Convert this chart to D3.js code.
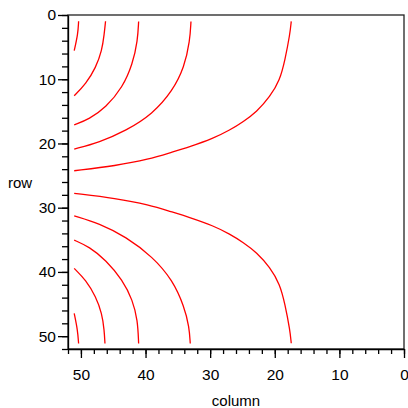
<!DOCTYPE html>
<html>
<head>
<meta charset="utf-8">
<script src="https://cdn.jsdelivr.net/npm/d3@7"></script>
<style>
  html, body { margin: 0; padding: 0; background: #fff; }
  #chartDiv { width: 408px; height: 408px; }
  text { font-family: "Liberation Sans", Arial, sans-serif; }
</style>
</head>
<body>
<div id="chartDiv"></div>
<script>
// tick values
const majorTicks = [0, 10, 20, 30, 40, 50];
const minorTicks = d3.range(0, 53, 2);

// contour lines, points are [column, row]
const upperLines = [
  [[50.36, 0.98], [50.46, 2.96], [51.04, 5.56]],
  [[46.19, 0.98], [46.39, 2.96], [46.75, 5.56], [47.68, 8.15], [49.23, 10.75], [51.04, 12.57]],
  [[41.07, 1.0], [41.22, 4.0], [42.0, 7.63], [43.54, 11.26], [46.13, 14.38], [48.71, 16.2], [51.04, 17.09]],
  [[32.97, 1.0], [33.13, 4.0], [34.0, 8.15], [35.8, 11.79], [38.9, 15.42], [43.03, 18.02], [47.17, 19.83], [51.04, 20.87]],
  [[17.45, 1.0], [17.65, 2.96], [18.42, 7.01], [19.2, 10.12], [20.74, 12.73], [22.8, 15.06], [24.88, 16.62],
   [26.93, 17.91], [29.52, 19.21], [33.13, 20.51], [36.22, 21.45], [39.43, 22.45], [44.58, 23.47], [51.04, 24.25]]
];
const lowerLines = [
  [[51.04, 27.77], [44.58, 28.55], [39.43, 29.57], [36.22, 30.57], [33.13, 31.51], [29.52, 32.81], [26.93, 34.11],
   [24.88, 35.4], [22.8, 36.96], [20.74, 39.29], [19.2, 41.9], [18.42, 45.01], [17.65, 49.06], [17.45, 51.1]],
  [[51.04, 31.26], [47.17, 32.44], [43.03, 34.53], [38.9, 37.65], [35.8, 41.28], [34.0, 45.44], [33.24, 48.55], [33.08, 51.14]],
  [[51.04, 35.05], [48.71, 36.09], [46.13, 38.16], [43.54, 41.28], [42.0, 44.39], [41.22, 47.51], [41.07, 51.14]],
  [[51.04, 39.45], [49.23, 41.28], [47.68, 43.88], [46.75, 46.46], [46.39, 49.07], [46.28, 51.14]],
  [[51.04, 46.46], [50.51, 49.07], [50.36, 51.14]]
];

const width = 408, height = 408;
const m = {left: 68, right: 404, top: 15, bottom: 349};

const svg = d3.select("#chartDiv").append("svg")
    .attr("width", width)
    .attr("height", height);

const x = d3.scaleLinear().domain([52, 0]).range([m.left, m.right]);
const y = d3.scaleLinear().domain([0, 52]).range([m.top, m.bottom]);

// frame (top and right edges)
svg.append("rect")
    .attr("x", m.left).attr("y", m.top)
    .attr("width", m.right - m.left).attr("height", m.bottom - m.top)
    .attr("fill", "none")
    .attr("stroke", "#222")
    .attr("stroke-width", 1.3);

const styleAxis = g => {
  g.selectAll("path, line").attr("stroke", "#000").attr("stroke-width", 1.3);
  g.selectAll("text").attr("font-size", 15.5).attr("fill", "#000")
      .attr("font-family", '"Liberation Sans", Arial, sans-serif');
};

// minor ticks
svg.append("g")
    .attr("transform", `translate(${m.left},0)`)
    .call(d3.axisLeft(y).tickValues(minorTicks).tickSize(6).tickSizeOuter(0).tickFormat(""))
    .call(styleAxis);
svg.append("g")
    .attr("transform", `translate(0,${m.bottom})`)
    .call(d3.axisBottom(x).tickValues(minorTicks).tickSize(5).tickSizeOuter(0).tickFormat(""))
    .call(styleAxis);

// major ticks with labels
svg.append("g")
    .attr("transform", `translate(${m.left},0)`)
    .call(d3.axisLeft(y).tickValues(majorTicks).tickSize(10).tickPadding(2).tickSizeOuter(0))
    .call(styleAxis)
    .call(g => g.select(".domain").remove());
svg.append("g")
    .attr("transform", `translate(0,${m.bottom})`)
    .call(d3.axisBottom(x).tickValues(majorTicks).tickSize(9).tickPadding(11).tickSizeOuter(0))
    .call(styleAxis)
    .call(g => g.select(".domain").remove());

// axis titles
svg.append("text")
    .attr("x", 20).attr("y", 188)
    .attr("text-anchor", "middle")
    .attr("font-size", 15)
    .text("row");
svg.append("text")
    .attr("x", 236).attr("y", 406)
    .attr("text-anchor", "middle")
    .attr("font-size", 15)
    .text("column");

// contour lines (smoothed through the read points)
const line = d3.line()
    .x(d => x(d[0]))
    .y(d => y(d[1]))
    .curve(d3.curveBasis);

svg.append("g")
    .attr("fill", "none")
    .attr("stroke", "#ff0000")
    .attr("stroke-width", 1.3)
  .selectAll("path")
  .data(upperLines.concat(lowerLines))
  .join("path")
    .attr("d", line);
</script>
</body>
</html>
